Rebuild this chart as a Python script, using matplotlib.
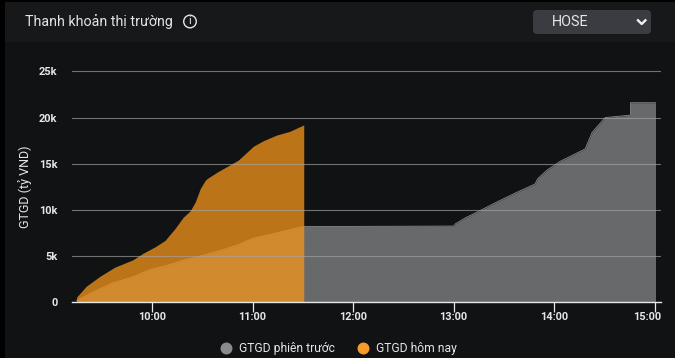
import matplotlib
matplotlib.use("Agg")
import matplotlib.pyplot as plt
from matplotlib.lines import Line2D
from matplotlib.patches import Rectangle, FancyBboxPatch, Circle
from matplotlib.transforms import ScaledTranslation

W, H = 675, 358
plt.rcParams['font.family'] = ['Roboto', 'DejaVu Sans']

title = "Thanh khoản thị trường"
y_label = "GTGD (tỷ VND)"
exchange = "HOSE"
series_names = ["GTGD phiên trước", "GTGD hôm nay"]
y_ticks = [0, 5000, 10000, 15000, 20000, 25000]
y_tick_labels = ["0", "5k", "10k", "15k", "20k", "25k"]
x_ticks = [10, 11, 12, 13, 14, 15]
x_tick_labels = ["10:00", "11:00", "12:00", "13:00", "14:00", "15:00"]

today_hours = [9.25, 9.345, 9.48, 9.63, 9.81, 9.91, 10.03, 10.13, 10.23, 10.31, 10.38,
               10.43, 10.48, 10.53, 10.55, 10.65, 10.86, 11.01, 11.11, 11.24, 11.37, 11.51]
today_values = [570, 1730, 2800, 3800, 4600, 5300, 6000, 6700, 8000, 9200, 9900,
                10850, 12300, 13200, 13400, 14100, 15400, 16900, 17500, 18100, 18500, 19200]

prev_hours = [9.25, 9.41, 9.61, 9.81, 9.96, 10.15, 10.33, 10.48, 10.68, 10.85, 11.0,
              11.18, 11.35, 11.51, 13.0, 13.02, 13.12, 13.26, 13.43, 13.61, 13.81,
              13.84, 13.93, 14.06, 14.31, 14.38, 14.51, 14.76, 14.761, 15.01]
prev_values = [200, 1100, 2100, 2750, 3450, 4000, 4600, 5000, 5600, 6200, 6900,
               7350, 7800, 8200, 8250, 8500, 9150, 9900, 10850, 11800, 12800,
               13400, 14300, 15250, 16600, 18400, 20000, 20250, 21600, 21600]

BG = "#111214"
fig = plt.figure(figsize=(W / 100, H / 100), dpi=100, facecolor=BG)


def fx(px):
    return px / W


def fy(py):
    return 1 - py / H


# panel framing
fig.add_artist(Rectangle((0, 0), fx(5), 1, transform=fig.transFigure, fc="#000000", ec="none"))
fig.add_artist(Rectangle((0, fy(2)), 1, fy(0) - fy(2), transform=fig.transFigure, fc="#000000", ec="none"))
fig.add_artist(Rectangle((fx(5), fy(42)), 1, fy(2) - fy(42), transform=fig.transFigure, fc="#17181a", ec="none"))

# plot area: y=0 at px 302.3, 25k at px 71.3; 10:00 at px 152, 100.5 px per hour
ax = fig.add_axes([fx(72), fy(302.3), fx(661 - 72), fy(60.7) - fy(302.3)])
ax.set_facecolor("none")
ax.set_xlim(10 + (72 - 152) / 100.5, 15 + (661 - 654.5) / 100.5)
ax.set_ylim(0, 26150)

ax.fill_between(prev_hours, prev_values, color="#68696b", lw=0, zorder=1)
ax.plot(prev_hours, prev_values, color="#8b8c8e", lw=0.6, zorder=1.5)
ax.fill_between(today_hours, today_values, color="#f6961b", alpha=0.75, lw=0, zorder=2)

for s in ["top", "right", "left"]:
    ax.spines[s].set_visible(False)
ax.spines["bottom"].set_color("#e8e8e8")
ax.spines["bottom"].set_linewidth(1.0)

ax.set_yticks(y_ticks, y_tick_labels)
ax.set_xticks(x_ticks, x_tick_labels)
ax.tick_params(axis="y", length=0, pad=10.5, labelsize=7.9, labelcolor="#e6e6e6")
ax.tick_params(axis="x", length=7, width=0.9, color="#e8e8e8", pad=0.3, labelsize=7.9, labelcolor="#e6e6e6")
for lab in ax.get_xticklabels() + ax.get_yticklabels():
    lab.set_fontweight("bold")
last = ax.get_xticklabels()[-1]
last.set_ha("right")
last.set_transform(last.get_transform() + ScaledTranslation(6.5 / 100, 0, fig.dpi_scale_trans))
ax.grid(axis="y", color="#a5a5a5", lw=0.8, alpha=0.65, zorder=3)
ax.set_axisbelow(False)
ax.xaxis.grid(False)

fig.text(fx(25), fy(22), title, color="#e4e4e4", fontsize=10.3, va="center", ha="left")
fig.text(fx(25), fy(187), y_label, color="#e6e6e6", fontsize=9, rotation=90, va="center", ha="center")

# info icon
fig.add_artist(Circle((190, H - 21.5), 6.3, transform=None, fc="none", ec="#e6e6e6", lw=1.0))
fig.text(fx(190), fy(21.5), "i", color="#e6e6e6", fontsize=8, va="center", ha="center")

# exchange selector
fig.add_artist(FancyBboxPatch((fx(533), fy(34)), fx(118), fy(10) - fy(34),
                              boxstyle="round,pad=0,rounding_size=0.006", transform=fig.transFigure,
                              fc="#3b3c42", ec="none", mutation_aspect=1.9))
fig.text(fx(552), fy(22), exchange, color="#e8e8e8", fontsize=10.4, va="center", ha="left")
fig.add_artist(Line2D([fx(638), fx(641.7), fx(645.4)], [fy(20.3), fy(24), fy(20.3)],
                      transform=fig.transFigure, color="#f0f0f0", lw=1.7))

# legend
handles = [Line2D([], [], ls="none", marker="o", ms=8.6, color=c, mec="none") for c in ["#8b8b8e", "#f79a2c"]]
leg = fig.legend(handles, series_names, loc="center", bbox_to_anchor=(fx(337), fy(348.3)), ncol=2,
                 frameon=False, fontsize=8.7, labelcolor="#e6e6e6", columnspacing=1.57, handletextpad=0.33,
                 borderpad=0, handlelength=1.5)

fig.savefig("out.png", dpi=100, facecolor=fig.get_facecolor())
